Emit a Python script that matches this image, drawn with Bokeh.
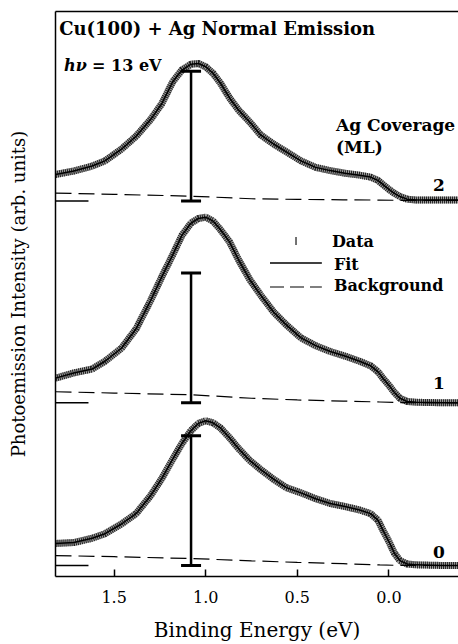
from bokeh.plotting import figure
from bokeh.models import Range1d, LinearAxis, FixedTicker, Label, PrintfTickFormatter
from bokeh.embed import file_html
from bokeh.resources import INLINE

# ---- data ----
energy = [1.82, 1.72, 1.62, 1.55, 1.46, 1.38, 1.30, 1.24, 1.18, 1.13, 1.08, 1.04, 1.00,
          0.96, 0.92, 0.87, 0.82, 0.76, 0.70, 0.63, 0.56, 0.48, 0.40, 0.32, 0.24, 0.16,
          0.10, 0.06, 0.03, 0.00, -0.03, -0.06, -0.10, -0.15, -0.22, -0.30, -0.38]
int_0ml = [0.17, 0.177, 0.21, 0.245, 0.32, 0.40, 0.54, 0.67, 0.82, 0.94, 1.04, 1.095, 1.115,
           1.10, 1.06, 0.985, 0.90, 0.81, 0.74, 0.665, 0.60, 0.56, 0.515, 0.478, 0.455, 0.428,
           0.40, 0.35, 0.265, 0.185, 0.095, 0.038, 0.012, 0.005, 0.003, 0.0, 0.0]
int_1ml = [0.19, 0.23, 0.26, 0.32, 0.42, 0.57, 0.79, 0.97, 1.14, 1.29, 1.385, 1.42, 1.43,
           1.40, 1.335, 1.24, 1.10, 0.95, 0.83, 0.70, 0.60, 0.50, 0.44, 0.395, 0.36, 0.32,
           0.285, 0.24, 0.185, 0.135, 0.08, 0.035, 0.01, 0.004, 0.002, 0.0, 0.0]
int_2ml = [0.205, 0.232, 0.27, 0.31, 0.40, 0.50, 0.63, 0.75, 0.92, 1.01, 1.055, 1.06, 1.035,
           0.985, 0.91, 0.795, 0.70, 0.61, 0.51, 0.44, 0.38, 0.31, 0.26, 0.235, 0.215, 0.20,
           0.185, 0.16, 0.125, 0.09, 0.06, 0.035, 0.015, 0.008, 0.008, 0.008, 0.008]
bg_energy = [1.82, 1.50, 1.08, 0.75, 0.50, 0.25, 0.05, -0.05, -0.38]
bg_0ml = [0.077, 0.068, 0.054, 0.036, 0.024, 0.014, 0.005, 0.001, 0.0]
bg_1ml = [0.085, 0.075, 0.062, 0.035, 0.022, 0.013, 0.006, 0.002, 0.0]
bg_2ml = [0.062, 0.052, 0.038, 0.018, 0.013, 0.010, 0.008, 0.006, 0.006]
coverage_labels = ["0", "1", "2"]
offsets = [0.0, 1.254, 2.808]
label_heights = [0.108, 0.154, 0.123]
scale_bar_energy = 1.08
scale_bar_height = 1.0
x_ticks = [1.5, 1.0, 0.5, 0.0]

SERIF = "DejaVu Serif"

p = figure(width=458, height=644, output_backend="svg", toolbar_location=None,
           x_range=Range1d(1.82, -0.38), y_range=Range1d(-0.0846, 4.269),
           min_border_left=55, min_border_right=0, min_border_top=11, min_border_bottom=67,
           x_axis_label="Binding Energy (eV)",
           y_axis_label="Photoemission Intensity (arb. units)")
p.outline_line_color = None
p.grid.visible = False
p.background_fill_color = "white"
p.border_fill_color = "white"

xa = p.xaxis[0]
xa.ticker = FixedTicker(ticks=x_ticks)
xa.formatter = PrintfTickFormatter(format="%.1f")
xa.major_tick_in = 7
xa.major_tick_out = 0
xa.minor_tick_line_color = None
xa.axis_line_width = 1.5
xa.major_tick_line_width = 1.5
xa.major_label_text_font = SERIF
xa.major_label_text_font_size = "16px"
xa.major_label_text_color = "black"
xa.major_label_standoff = 14
xa.axis_label_text_font = SERIF
xa.axis_label_text_font_size = "20px"
xa.axis_label_text_font_style = "normal"
xa.axis_label_text_color = "black"
xa.axis_label_standoff = 12

ya = p.yaxis[0]
ya.ticker = FixedTicker(ticks=[])
ya.major_label_text_font_size = "0px"
ya.major_label_standoff = 0
ya.major_tick_in = 0
ya.major_tick_out = 0
ya.minor_tick_line_color = None
ya.axis_line_width = 1.5
ya.axis_label_text_font = SERIF
ya.axis_label_text_font_size = "18px"
ya.axis_label_text_font_style = "normal"
ya.axis_label_text_color = "black"
ya.axis_label_standoff = 27

top = LinearAxis(ticker=FixedTicker(ticks=[]), major_label_text_font_size="0px",
                 major_label_standoff=0, major_tick_in=0, major_tick_out=0,
                 minor_tick_line_color=None, axis_line_width=1.5)
p.add_layout(top, "above")

series = [int_0ml, int_1ml, int_2ml]
backgrounds = [bg_0ml, bg_1ml, bg_2ml]

for ints, bg, off, lab, lh in zip(series, backgrounds, offsets, coverage_labels, label_heights):
    y = [v + off for v in ints]
    # data (dense vertical ticks look)
    p.line(energy, y, line_width=7, line_color="#555555", line_alpha=0.55)
    p.line(energy, y, line_width=7, line_color="#111111", line_dash="1 1", line_alpha=0.9)
    # fit
    p.line(energy, y, line_width=1.5, line_color="black")
    # background
    p.line(bg_energy, [b + off for b in bg], line_width=1.2, line_color="black", line_dash="16 7")
    # zero-level marker
    p.segment(x0=[1.82], y0=[off], x1=[1.64], y1=[off], line_width=1.5, line_color="black")
    # scale bar
    p.segment(x0=[scale_bar_energy], y0=[off], x1=[scale_bar_energy], y1=[off + scale_bar_height],
              line_width=2.5, line_color="black")
    p.scatter([scale_bar_energy, scale_bar_energy], [off, off + scale_bar_height], marker="dash",
              size=20, line_width=3, line_color="black")
    p.add_layout(Label(x=-0.273, y=off + lh, text=lab, text_font=SERIF, text_font_style="bold",
                       text_font_size="17px", text_align="center", text_baseline="middle",
                       text_color="black"))

# legend (drawn by hand)
p.segment(x0=[0.507], y0=[2.469], x1=[0.507], y1=[2.531], line_width=1.5, line_color="#444444")
p.segment(x0=[0.649], y0=[2.331], x1=[0.366], y1=[2.331], line_width=1.5, line_color="black")
p.segment(x0=[0.649], y0=[2.146], x1=[0.366], y1=[2.146], line_width=1.2, line_color="black",
          line_dash="14 6")
for txt, xx, yy in [("Data", 0.311, 2.50), ("Fit", 0.30, 2.323), ("Background", 0.30, 2.154)]:
    p.add_layout(Label(x=xx, y=yy, text=txt, text_font=SERIF, text_font_style="bold",
                       text_font_size="16px", text_baseline="middle", text_color="black"))

p.add_layout(Label(x=1.80, y=4.138, text="Cu(100) + Ag Normal Emission", text_font=SERIF,
                   text_font_style="bold", text_font_size="18px", text_baseline="middle",
                   text_color="black"))
p.add_layout(Label(x=1.773, y=3.854, text="hν", text_font=SERIF, text_font_style="bold italic",
                   text_font_size="16px", text_baseline="middle", text_color="black"))
p.add_layout(Label(x=1.773, y=3.854, x_offset=28, text="= 13 eV", text_font=SERIF,
                   text_font_style="bold", text_font_size="16px", text_baseline="middle",
                   text_color="black"))
p.add_layout(Label(x=0.289, y=3.392, text="Ag Coverage", text_font=SERIF, text_font_style="bold",
                   text_font_size="17px", text_baseline="middle", text_color="black"))
p.add_layout(Label(x=0.289, y=3.223, text="(ML)", text_font=SERIF, text_font_style="bold",
                   text_font_size="17px", text_baseline="middle", text_color="black"))

open("out.html", "w").write(file_html(p, INLINE))
